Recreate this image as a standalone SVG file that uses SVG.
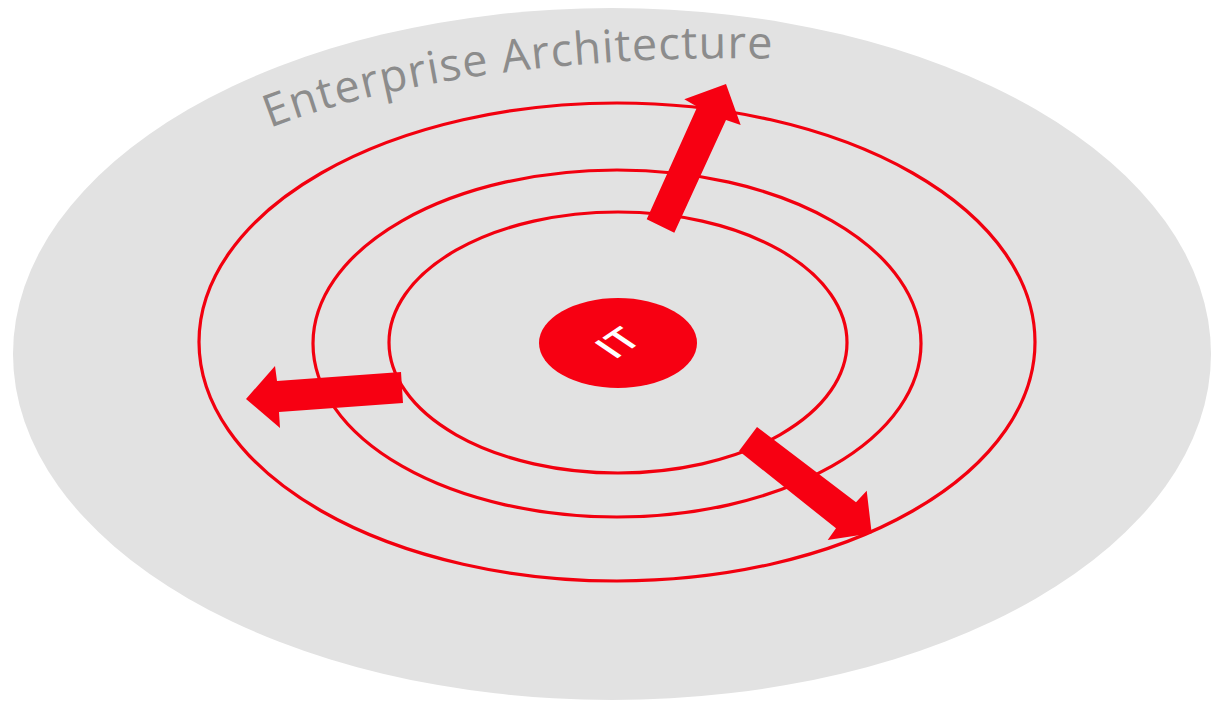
<svg xmlns="http://www.w3.org/2000/svg" width="1211" height="702" viewBox="0 0 1211 702">
  <defs>
    <style>
      .ring { fill: none; stroke: #f2000f; stroke-width: 3.2; }
      .arrow { fill: #f70012; stroke: none; }
      .title { font-family: "Open Sans", "Liberation Sans", sans-serif; font-size: 45px; fill: #8c8c8c; }
      .it { font-family: "Open Sans", "Liberation Sans", sans-serif; font-size: 20px; font-weight: 600; fill: #ffffff; }
    </style>
    <path id="arc" d="M 270 128 C 390 81 580 53 790 59"/>
  </defs>
  <rect width="1211" height="702" fill="#ffffff"/>
  <g id="enterprise">
    <ellipse cx="612" cy="354" rx="599" ry="346" fill="#e2e2e2"/>
    <text class="title"><textPath href="#arc" textLength="510" lengthAdjust="spacing">Enterprise Architecture</textPath></text>
  </g>
  <g id="ring-outer"><ellipse class="ring" cx="617" cy="342" rx="418" ry="239"/></g>
  <g id="ring-middle"><ellipse class="ring" cx="617" cy="343.5" rx="304" ry="173.5"/></g>
  <g id="ring-inner"><ellipse class="ring" cx="618" cy="342.5" rx="229" ry="130.5"/></g>
  <g id="it">
    <ellipse cx="618" cy="343" rx="79" ry="45" fill="#f70012"/>
    <text class="it" text-anchor="middle" transform="matrix(1.66 -1.12 1.6 1.08 629 350.5)">IT</text>
  </g>
  <g id="connectors">
    <polygon class="arrow" points="646.7,219.3 697.3,106.7 684.3,99.3 726,84 740.7,125 726,120 674.3,232.7"/>
    <polygon class="arrow" points="401,372 277,381 275,366 246,399 280,428 279,412 403,403"/>
    <polygon class="arrow" points="757,427 856,502.3 866.7,490.7 871.7,533.3 827.7,540 836,528.3 739,451"/>
  </g>
</svg>
